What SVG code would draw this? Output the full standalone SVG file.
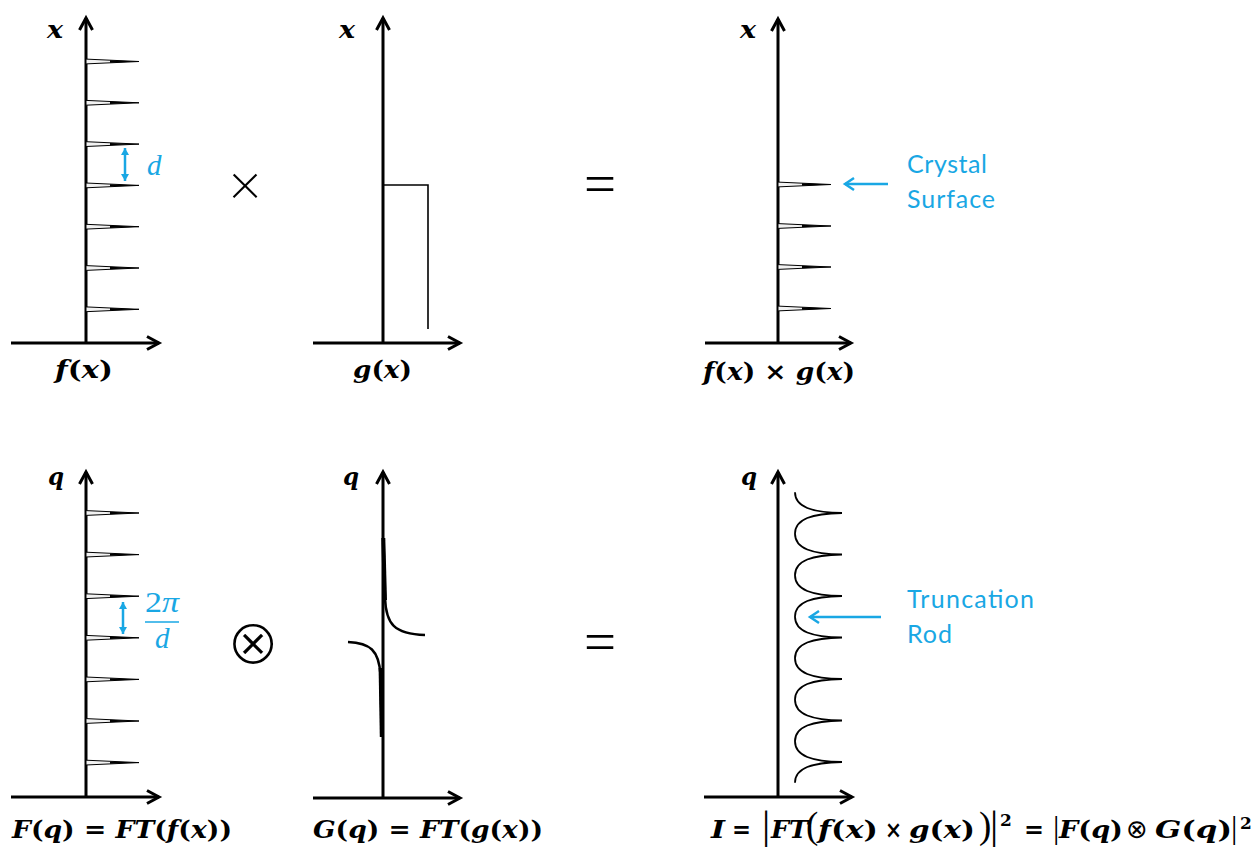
<svg xmlns="http://www.w3.org/2000/svg" width="1256" height="848" viewBox="0 0 1256 848">
<style>
.ax{fill:none;stroke:#000;stroke-width:3;marker-end:url(#open)}
.lbl{font-family:"DejaVu Serif","Liberation Serif",serif;font-weight:bold;font-style:italic;fill:#000}
.up{font-style:normal}
.lt{font-family:"Liberation Serif",serif;font-weight:normal;font-style:normal}
.blue{fill:#19A7E4;font-family:Lato,"Liberation Sans",sans-serif;font-size:25px}
.bmath{fill:#19A7E4;font-family:"Liberation Serif","DejaVu Serif",serif;font-size:29px}
.op{font-family:Lato,"Liberation Sans",sans-serif;font-weight:300;fill:#000}
.barr{fill:none;stroke:#19A7E4;stroke-width:2.5;marker-start:url(#bt);marker-end:url(#bt)}
.parr{fill:none;stroke:#19A7E4;stroke-width:2.5;marker-end:url(#bopen)}
.rod{fill:none;stroke:#000;stroke-width:1.8}
.curve{fill:none;stroke:#000;stroke-width:2.5}
</style>
<defs>
<marker id="open" viewBox="-18 -10 22 20" refX="0" refY="0" markerWidth="22" markerHeight="20" orient="auto" markerUnits="userSpaceOnUse">
<path d="M-12,-6.5 L0,0 L-12,6.5" fill="none" stroke="#000" stroke-width="3"/>
</marker>
<marker id="bopen" viewBox="-18 -10 22 20" refX="0" refY="0" markerWidth="22" markerHeight="20" orient="auto" markerUnits="userSpaceOnUse">
<path d="M-9,-6 L0,0 L-9,6" fill="none" stroke="#19A7E4" stroke-width="2.5"/>
</marker>
<marker id="bt" viewBox="-10 -6 12 12" refX="0" refY="0" markerWidth="12" markerHeight="12" orient="auto-start-reverse" markerUnits="userSpaceOnUse">
<path d="M-7,-4 L0,0 L-7,4 Z" fill="#19A7E4"/>
</marker>
<g id="spike">
<path d="M0,-2.4 L53,0 L0,2.4 Z" fill="#f2f2f2" stroke="#000" stroke-width="1"/>
<path d="M24,-1.2 L53,0 L24,1.2 Z" fill="#000"/>
</g>
</defs>

<g id="panel-fx">
<path class="ax" d="M86,343 L86,18"/>
<path class="ax" d="M11,343 L159,343"/>
<use href="#spike" x="86" y="61.5"/>
<use href="#spike" x="86" y="102.8"/>
<use href="#spike" x="86" y="144.1"/>
<use href="#spike" x="86" y="185.4"/>
<use href="#spike" x="86" y="226.7"/>
<use href="#spike" x="86" y="268"/>
<use href="#spike" x="86" y="309.3"/>
<text class="lbl" x="47" y="38" font-size="24" textLength="16" lengthAdjust="spacingAndGlyphs">x</text>
<text class="lbl" x="55" y="378" font-size="25" textLength="58" lengthAdjust="spacingAndGlyphs">f<tspan class="up">(</tspan>x<tspan class="up">)</tspan></text>
<text class="bmath" x="147" y="175" font-style="italic">d</text>
</g>

<g id="op-times">
<text class="op" x="245" y="205" font-size="58" font-weight="400" text-anchor="middle">×</text>
</g>

<g id="panel-gx">
<path class="ax" d="M383,343 L383,18"/>
<path class="ax" d="M313,343 L460,343"/>
<path d="M383,185 L428,185 L428,329" fill="none" stroke="#000" stroke-width="1.6"/>
<text class="lbl" x="339" y="38" font-size="24" textLength="16" lengthAdjust="spacingAndGlyphs">x</text>
<text class="lbl" x="353" y="378" font-size="25" textLength="59" lengthAdjust="spacingAndGlyphs">g<tspan class="up">(</tspan>x<tspan class="up">)</tspan></text>
</g>

<g id="op-eq1">
<text class="op" x="600" y="0" font-size="64" text-anchor="middle" transform="translate(0,209) scale(1,1.15)">=</text>
</g>

<g id="panel-fxgx">
<path class="ax" d="M778,343 L778,19"/>
<path class="ax" d="M705,343 L851,343"/>
<use href="#spike" x="778" y="184.5"/>
<use href="#spike" x="778" y="226"/>
<use href="#spike" x="778" y="267"/>
<use href="#spike" x="778" y="308.5"/>
<text class="lbl" x="740" y="38" font-size="24" textLength="16" lengthAdjust="spacingAndGlyphs">x</text>
<text class="lbl" x="703" y="380" font-size="25" textLength="152" lengthAdjust="spacingAndGlyphs">f<tspan class="up">(</tspan>x<tspan class="up">) × </tspan>g<tspan class="up">(</tspan>x<tspan class="up">)</tspan></text>
<text class="blue" x="907" y="173" textLength="80" lengthAdjust="spacing">Crystal</text>
<text class="blue" x="907" y="208" textLength="88" lengthAdjust="spacing">Surface</text>
</g>

<g id="panel-Fq">
<path class="ax" d="M86,797 L86,472"/>
<path class="ax" d="M11,797 L159,797"/>
<use href="#spike" x="86" y="513"/>
<use href="#spike" x="86" y="554.6"/>
<use href="#spike" x="86" y="596.2"/>
<use href="#spike" x="86" y="637.8"/>
<use href="#spike" x="86" y="679.4"/>
<use href="#spike" x="86" y="721"/>
<use href="#spike" x="86" y="762.6"/>
<text class="lbl" x="48" y="485" font-size="24" textLength="16" lengthAdjust="spacingAndGlyphs">q</text>
<text class="bmath" x="145" y="612" textLength="34" lengthAdjust="spacingAndGlyphs">2<tspan font-style="italic">π</tspan></text>
<line x1="145" y1="622" x2="179" y2="622" stroke="#19A7E4" stroke-width="1.6"/>
<text class="bmath" x="155" y="648" font-style="italic">d</text>
<text class="lbl" x="12" y="838" font-size="25" textLength="220" lengthAdjust="spacingAndGlyphs">F<tspan class="up">(</tspan>q<tspan class="up">) = </tspan>FT<tspan class="up">(</tspan>f<tspan class="up">(</tspan>x<tspan class="up">))</tspan></text>
</g>

<g id="op-conv">
<text x="253" y="664" font-size="64" text-anchor="middle" font-family="DejaVu Sans" stroke="#fff" stroke-width="2">⊗</text>
</g>

<g id="panel-Gq">
<path class="ax" d="M383,798 L383,472"/>
<path class="ax" d="M313,798 L460,798"/>
<path class="curve" d="M383.5,538 L385,598 C386,624 394,634 425,635"/>
<path d="M383.3,538 L385,600" stroke="#000" stroke-width="4" fill="none"/>
<path class="curve" d="M348,642 C370,643 379,650 380.5,675 L381.8,737"/>
<path d="M380.6,668 L381.8,737" stroke="#000" stroke-width="4" fill="none"/>
<text class="lbl" x="343" y="485" font-size="24" textLength="16" lengthAdjust="spacingAndGlyphs">q</text>
<text class="lbl" x="313" y="838" font-size="25" textLength="230" lengthAdjust="spacingAndGlyphs">G<tspan class="up">(</tspan>q<tspan class="up">) = </tspan>FT<tspan class="up">(</tspan>g<tspan class="up">(</tspan>x<tspan class="up">))</tspan></text>
</g>

<g id="op-eq2">
<text class="op" x="600" y="0" font-size="64" text-anchor="middle" transform="translate(0,667) scale(1,1.15)">=</text>
</g>

<g id="panel-I">
<path class="ax" d="M778,797 L778,472"/>
<path class="ax" d="M704,797 L852,797"/>
<path class="rod" d="M795,492.3 C795,507 812,512.5 842,513
C812,513.5 795,519 795,533.75 C795,548.5 812,554 842,554.5
C812,555 795,560.5 795,575.25 C795,590 812,595.5 842,596
C812,596.5 795,602 795,616.75 C795,631.5 812,637 842,637.5
C812,638 795,643.5 795,658.25 C795,673 812,678.5 842,679
C812,679.5 795,685 795,699.75 C795,714.5 812,720 842,720.5
C812,721 795,726.5 795,741.25 C795,756 812,761.5 842,762
C812,762.5 795,768 795,782.7"/>
<text class="lbl" x="741" y="485" font-size="24" textLength="16" lengthAdjust="spacingAndGlyphs">q</text>
<text class="blue" x="907" y="608" textLength="127" lengthAdjust="spacing">Truncation</text>
<text class="blue" x="907" y="643" textLength="45" lengthAdjust="spacing">Rod</text>
<text class="lbl" y="838" font-size="25">
<tspan x="711" textLength="14" lengthAdjust="spacingAndGlyphs">I</tspan>
<tspan x="732" class="up" textLength="19" lengthAdjust="spacingAndGlyphs">=</tspan>
<tspan x="762" class="lt" font-size="41">|</tspan>
<tspan x="771" textLength="37" lengthAdjust="spacingAndGlyphs">FT</tspan>
<tspan x="806" class="lt" font-size="37">(</tspan>
<tspan x="818" textLength="60" lengthAdjust="spacingAndGlyphs">f<tspan class="up">(</tspan>x<tspan class="up">)</tspan></tspan>
<tspan x="885" class="up" textLength="17" lengthAdjust="spacingAndGlyphs">×</tspan>
<tspan x="909" textLength="66" lengthAdjust="spacingAndGlyphs">g<tspan class="up">(</tspan>x<tspan class="up">)</tspan></tspan>
<tspan x="979" class="lt" font-size="37">)</tspan>
<tspan x="990" class="lt" font-size="41">|</tspan>
<tspan x="1000" y="826" class="up" font-size="17">2</tspan>
<tspan x="1024" y="838" class="up" textLength="20" lengthAdjust="spacingAndGlyphs">=</tspan>
<tspan x="1053" class="lt" font-size="32">|</tspan>
<tspan x="1059" textLength="64" lengthAdjust="spacingAndGlyphs">F<tspan class="up">(</tspan>q<tspan class="up">)</tspan></tspan>
<tspan x="1126" class="up" font-weight="normal" font-family="DejaVu Sans" font-size="26">⊗</tspan>
<tspan x="1155" textLength="77" lengthAdjust="spacingAndGlyphs">G<tspan class="up">(</tspan>q<tspan class="up">)</tspan></tspan>
<tspan x="1231" class="lt" font-size="32">|</tspan>
<tspan x="1240" y="829" class="up" font-size="17">2</tspan>
</text>
</g>

<g id="connectors">
<path class="barr" d="M125,148 L125,181"/>
<path class="barr" d="M123,602 L123,634"/>
<path class="parr" d="M888,184 L845,184"/>
<path class="parr" d="M881,617 L810,617"/>
</g>
</svg>
